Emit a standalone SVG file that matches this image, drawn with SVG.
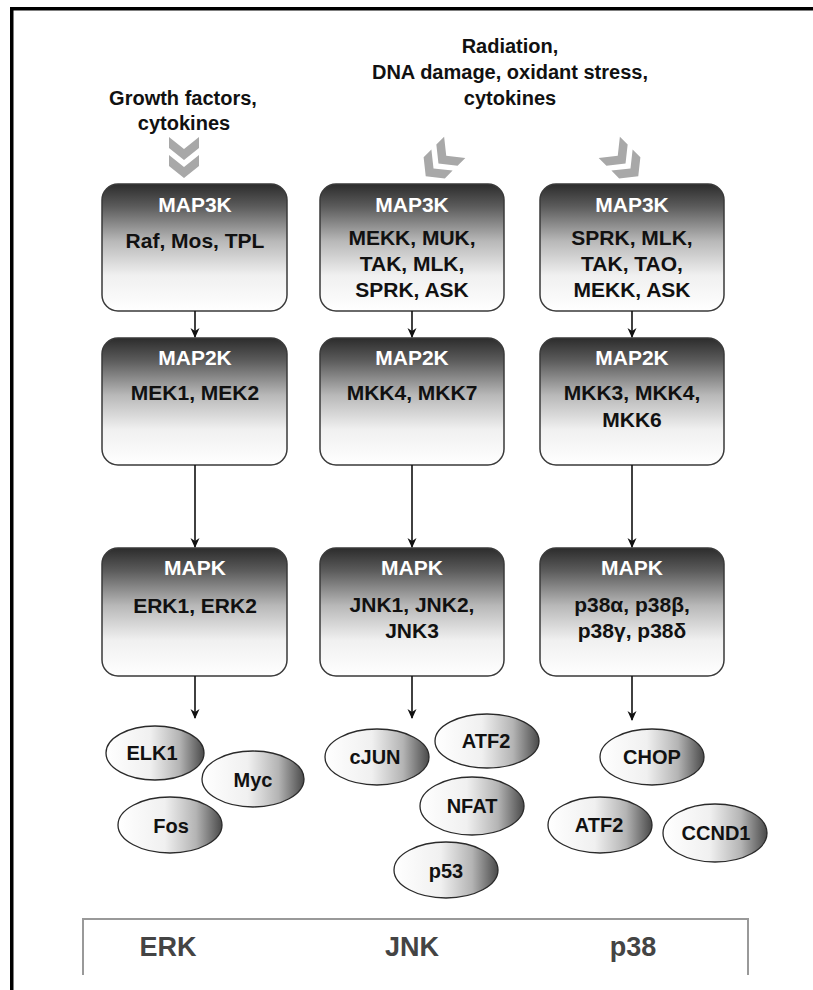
<svg xmlns="http://www.w3.org/2000/svg" width="813" height="990" viewBox="0 0 813 990">
<defs>
<linearGradient id="boxg" x1="0" y1="0" x2="0" y2="1">
<stop offset="0" stop-color="#2c2c2c"/>
<stop offset="0.18" stop-color="#5c5c5c"/>
<stop offset="0.45" stop-color="#b8b8b8"/>
<stop offset="0.72" stop-color="#f0f0f0"/>
<stop offset="1" stop-color="#ffffff"/>
</linearGradient>
<linearGradient id="ellg" x1="0" y1="0" x2="1" y2="0">
<stop offset="0" stop-color="#ffffff"/>
<stop offset="0.45" stop-color="#f0f0f0"/>
<stop offset="0.75" stop-color="#b4b4b4"/>
<stop offset="1" stop-color="#4a4a4a"/>
</linearGradient>
<marker id="ah" markerWidth="10" markerHeight="10" refX="9" refY="5" orient="auto" markerUnits="userSpaceOnUse">
<path d="M0,0.5 L10,5 L0,9.5 L3,5 Z" fill="#111"/>
</marker>
<polygon id="chev" points="-15,-9 0,3 15,-9 15,2 0,14 -15,2" fill="#a8a8a8"/>
</defs>
<style>
text{font-family:"Liberation Sans",Arial,sans-serif;font-weight:bold;text-anchor:middle}
.box{fill:url(#boxg);stroke:#3a3a3a;stroke-width:1.5}
.hd{fill:#ffffff;font-size:21px}
.ct{fill:#111;font-size:21px}
.ell{fill:url(#ellg);stroke:#2a2a2a;stroke-width:1.3}
.et{fill:#111;font-size:20px}
.top{fill:#111;font-size:20px}
.lab{fill:#444;font-size:27px}
.conn{stroke:#111;stroke-width:1.6;fill:none;marker-end:url(#ah)}
</style>
<rect x="0" y="0" width="813" height="990" fill="#ffffff"/>
<rect x="10" y="7" width="803" height="3.5" fill="#000"/>
<rect x="10" y="7" width="3.5" height="983" fill="#000"/>

<g id="stimuli">
<text class="top" x="183" y="105">Growth factors,</text>
<text class="top" x="184" y="130">cytokines</text>
<text class="top" x="510" y="53">Radiation,</text>
<text class="top" x="510" y="79">DNA damage, oxidant stress,</text>
<text class="top" x="510" y="105">cytokines</text>
</g>
<g id="chevrons">
<use href="#chev" transform="translate(184,146)"/>
<use href="#chev" transform="translate(184,164)"/>
<use href="#chev" transform="translate(442,160) rotate(45) translate(0,-9)"/>
<use href="#chev" transform="translate(442,160) rotate(45) translate(0,9)"/>
<use href="#chev" transform="translate(622,160) rotate(-45) translate(0,-9)"/>
<use href="#chev" transform="translate(622,160) rotate(-45) translate(0,9)"/>
</g>

<g id="erk-map3k"><rect class="box" x="102" y="184" width="185" height="127" rx="16"/><text class="hd" x="195" y="212">MAP3K</text><text class="ct" x="195" y="248">Raf, Mos, TPL</text></g>
<g id="jnk-map3k"><rect class="box" x="320" y="184" width="184" height="127" rx="16"/><text class="hd" x="412" y="212">MAP3K</text><text class="ct" x="412" y="245">MEKK, MUK,</text><text class="ct" x="412" y="271">TAK, MLK,</text><text class="ct" x="412" y="297">SPRK, ASK</text></g>
<g id="p38-map3k"><rect class="box" x="540" y="184" width="184" height="127" rx="16"/><text class="hd" x="632" y="212">MAP3K</text><text class="ct" x="632" y="245">SPRK, MLK,</text><text class="ct" x="632" y="271">TAK, TAO,</text><text class="ct" x="632" y="297">MEKK, ASK</text></g>

<g id="erk-map2k"><rect class="box" x="102" y="338" width="185" height="127" rx="16"/><text class="hd" x="195" y="365">MAP2K</text><text class="ct" x="195" y="400">MEK1, MEK2</text></g>
<g id="jnk-map2k"><rect class="box" x="320" y="338" width="184" height="127" rx="16"/><text class="hd" x="412" y="365">MAP2K</text><text class="ct" x="412" y="400">MKK4, MKK7</text></g>
<g id="p38-map2k"><rect class="box" x="540" y="338" width="184" height="127" rx="16"/><text class="hd" x="632" y="365">MAP2K</text><text class="ct" x="632" y="400">MKK3, MKK4,</text><text class="ct" x="632" y="427">MKK6</text></g>

<g id="erk-mapk"><rect class="box" x="102" y="548" width="185" height="128" rx="16"/><text class="hd" x="195" y="575">MAPK</text><text class="ct" x="195" y="613">ERK1, ERK2</text></g>
<g id="jnk-mapk"><rect class="box" x="320" y="548" width="184" height="128" rx="16"/><text class="hd" x="412" y="575">MAPK</text><text class="ct" x="412" y="612">JNK1, JNK2,</text><text class="ct" x="412" y="638">JNK3</text></g>
<g id="p38-mapk"><rect class="box" x="540" y="548" width="184" height="128" rx="16"/><text class="hd" x="632" y="575">MAPK</text><text class="ct" x="632" y="612">p38α, p38β,</text><text class="ct" x="632" y="638">p38γ, p38δ</text></g>

<g id="connectors">
<line class="conn" x1="195" y1="311" x2="195" y2="337"/>
<line class="conn" x1="412" y1="311" x2="412" y2="337"/>
<line class="conn" x1="632" y1="311" x2="632" y2="337"/>
<line class="conn" x1="195" y1="465" x2="195" y2="547"/>
<line class="conn" x1="412" y1="465" x2="412" y2="547"/>
<line class="conn" x1="632" y1="465" x2="632" y2="547"/>
<line class="conn" x1="195" y1="676" x2="195" y2="718"/>
<line class="conn" x1="412" y1="676" x2="412" y2="718"/>
<line class="conn" x1="632" y1="676" x2="632" y2="720"/>
</g>

<g id="elk1"><ellipse class="ell" cx="155" cy="753" rx="49" ry="27"/><text class="et" x="152" y="760">ELK1</text></g>
<g id="myc"><ellipse class="ell" cx="253" cy="779" rx="51" ry="28"/><text class="et" x="253" y="787">Myc</text></g>
<g id="fos"><ellipse class="ell" cx="170" cy="825" rx="52" ry="28"/><text class="et" x="171" y="833">Fos</text></g>

<g id="cjun"><ellipse class="ell" cx="377" cy="757" rx="52" ry="28"/><text class="et" x="375" y="764">cJUN</text></g>
<g id="atf2-jnk"><ellipse class="ell" cx="487" cy="741" rx="52" ry="27"/><text class="et" x="486" y="748">ATF2</text></g>
<g id="nfat"><ellipse class="ell" cx="472" cy="806" rx="52" ry="29"/><text class="et" x="472" y="813">NFAT</text></g>
<g id="p53"><ellipse class="ell" cx="446" cy="870" rx="52" ry="28"/><text class="et" x="446" y="878">p53</text></g>

<g id="chop"><ellipse class="ell" cx="652" cy="757" rx="52" ry="28"/><text class="et" x="652" y="764">CHOP</text></g>
<g id="atf2-p38"><ellipse class="ell" cx="600" cy="825" rx="52" ry="28"/><text class="et" x="599" y="832">ATF2</text></g>
<g id="ccnd1"><ellipse class="ell" cx="715" cy="833" rx="52" ry="29"/><text class="et" x="716" y="840">CCND1</text></g>

<g id="legend">
<path d="M83,975 L83,919 L748,919 L748,975" fill="none" stroke="#999" stroke-width="2"/>
<text class="lab" x="168" y="956">ERK</text>
<text class="lab" x="412" y="956">JNK</text>
<text class="lab" x="633" y="956">p38</text>
</g>
</svg>
